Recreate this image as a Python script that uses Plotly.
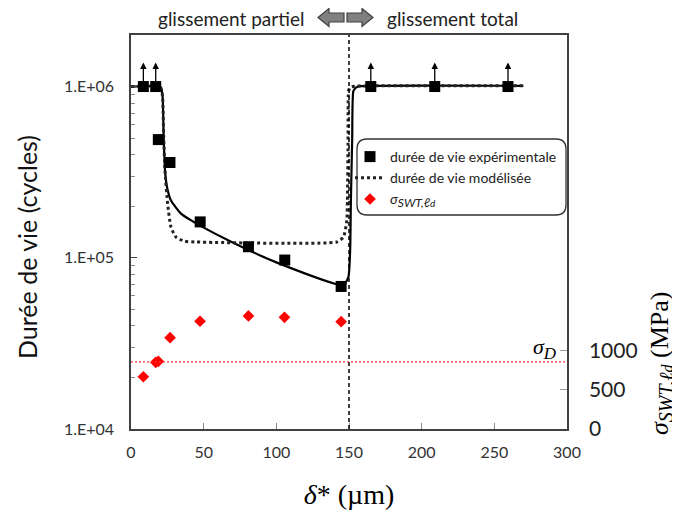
import math
import plotly.graph_objects as go

# ---------------- data ----------------
delta_exp = [8.5, 17.0, 18.8, 26.8, 47.6, 80.8, 105.8, 144.6, 165.0, 209.0, 259.4]
life_exp = [1.0e6, 1.0e6, 4.9e5, 3.6e5, 1.62e5, 1.16e5, 9.7e4, 6.8e4, 1.0e6, 1.0e6, 1.0e6]
runout = [True, True, False, False, False, False, False, False, True, True, True]

delta_fit = [0, 20.0, 21.0, 21.8, 22.5, 23.4, 24.8, 27.5, 34.4, 40.0, 47.5, 68.9, 100.0, 146.2,
             149.6, 150.8, 151.3, 152.2, 153.0, 155.0, 157.7, 270.0]
life_fit = [1.0e6, 1.0e6, 9.6e5, 8.6e5, 5.04e5, 3.23e5, 2.58e5, 2.16e5, 1.81e5, 1.68e5, 1.54e5,
            1.24e5, 9.4e4, 6.92e4, 7.73e4, 1.11e5, 2.16e5, 5.0e5, 9.4e5, 9.9e5, 1.005e6, 1.01e6]

delta_model = [0, 20.0, 21.0, 21.8, 22.5, 23.4, 25.2, 27.5, 31.0, 36.7, 45.0, 141.6, 146.2,
               148.5, 148.9, 149.3, 149.7, 150.5, 151.9, 155.0, 270.0]
life_model = [1.0e6, 1.0e6, 9.6e5, 8.6e5, 5.04e5, 3.23e5, 2.07e5, 1.51e5, 1.32e5, 1.25e5, 1.236e5,
              1.236e5, 1.32e5, 1.65e5, 2.16e5, 4.2e5, 9.4e5, 9.8e5, 9.95e5, 1.005e6, 1.01e6]

delta_sigma = [8.5, 17.0, 18.8, 26.9, 47.5, 80.8, 105.6, 144.6]
sigma_swt = [670, 855, 868, 1170, 1381, 1449, 1432, 1376]

sigma_D = 860
delta_transition = 150

x_ticks = [0, 50, 100, 150, 200, 250, 300]
y_ticks = [1e4, 1e5, 1e6]
y_ticktext = ["1.E+04", "1.E+05", "1.E+06"]
y2_ticks = [0, 500, 1000]

# ---------------- layout geometry ----------------
# the page body has an 8px margin, so the figure is drawn 8px right/down of the window corner
OFF = 8
SL, SR, ST, SB = 131, 567, 35, 429          # plot area in window pixels
PW, PH = SR - SL, SB - ST
W, H = 672, 502
ML, MT = SL - OFF, ST - OFF
MR, MB = W - (SR - OFF), H - (SB - OFF)


def px(xs):
    return (xs - SL) / PW


def py(ys):
    return (SB - ys) / PH


def P(a, b):
    return f"{px(a):.5f},{py(b):.5f}"


SANS = "Lato, 'Open Sans', sans-serif"
SERIF = "'Liberation Serif', 'DejaVu Serif', serif"
AX = "#404040"


def sigma_label(sub_px, d_px):
    return (f"<i>σ</i><sub><i><span style='font-size:{sub_px}px'>SWT,ℓ</span>"
            f"<span style='font-size:{d_px}px'>d</span></i></sub>")


fig = go.Figure()

fig.add_trace(go.Scatter(x=delta_fit, y=life_fit, mode="lines",
                         line=dict(color="black", width=2.2, shape="spline", smoothing=0.5),
                         showlegend=False, hoverinfo="skip"))
fig.add_trace(go.Scatter(x=delta_model, y=life_model, mode="lines",
                         line=dict(color="#222222", width=3, dash="dot", shape="spline", smoothing=0.5),
                         name="durée de vie modélisée", legendrank=2))
fig.add_trace(go.Scatter(x=delta_exp, y=life_exp, mode="markers",
                         marker=dict(symbol="square", size=11, color="black"),
                         name="durée de vie expérimentale", legendrank=1))
fig.add_trace(go.Scatter(x=delta_sigma, y=sigma_swt, mode="markers", yaxis="y2",
                         marker=dict(symbol="diamond", size=9, color="#ff0000"),
                         name=f"<span style='font-family:{SERIF};font-size:17px'>{sigma_label(12, 10)}</span>",
                         legendrank=3))

# run-out arrows
for xd, yd, r in zip(delta_exp, life_exp, runout):
    if r:
        fig.add_annotation(x=xd, y=math.log10(yd) + 0.14, ax=xd, ay=math.log10(yd),
                           xref="x", yref="y", axref="x", ayref="y",
                           showarrow=True, arrowhead=2, arrowsize=1, arrowwidth=1.3,
                           arrowcolor="black", text="")

# transition line and sigma_D line
fig.add_shape(type="line", xref="x", yref="paper", x0=delta_transition, x1=delta_transition,
              y0=0, y1=1, line=dict(color="black", width=1.5, dash="4px,3px"))
fig.add_shape(type="line", xref="paper", yref="y2", x0=0, x1=1, y0=sigma_D, y1=sigma_D,
              line=dict(color="#ff3333", width=1.3, dash="2px,2px"))
fig.add_annotation(x=px(545), y=py(348), xref="paper", yref="paper", showarrow=False,
                   xanchor="center", yanchor="middle",
                   text="<i>σ</i><sub><i><span style='font-size:17px'>D</span></i></sub>",
                   font=dict(family=SERIF, size=22, color="black"))

# legend rounded box
x0b, x1b, y0b, y1b, r = 357, 566, 139, 215, 10
path = (f"M {P(x0b + r, y0b)} L {P(x1b - r, y0b)} Q {P(x1b, y0b)} {P(x1b, y0b + r)} "
        f"L {P(x1b, y1b - r)} Q {P(x1b, y1b)} {P(x1b - r, y1b)} L {P(x0b + r, y1b)} "
        f"Q {P(x0b, y1b)} {P(x0b, y1b - r)} L {P(x0b, y0b + r)} Q {P(x0b, y0b)} {P(x0b + r, y0b)} Z")
fig.add_shape(type="path", xref="paper", yref="paper", path=path,
              line=dict(color="#333333", width=1.3), fillcolor="white", layer="below")

# top labels and block arrows
fig.add_annotation(x=px(231), y=py(18), xref="paper", yref="paper", showarrow=False,
                   xanchor="center", yanchor="middle",
                   text="glissement partiel", font=dict(family=SANS, size=19, color="#222"))
fig.add_annotation(x=px(452), y=py(18), xref="paper", yref="paper", showarrow=False,
                   xanchor="center", yanchor="middle",
                   text="glissement total", font=dict(family=SANS, size=19, color="#222"))


def arrow_path(xa, xb, direction):
    yc, hh, sh = 17.5, 9, 4.5
    head = 11
    if direction < 0:
        pts = [(xa, yc), (xa + head, yc - hh), (xa + head, yc - sh), (xb, yc - sh),
               (xb, yc + sh), (xa + head, yc + sh), (xa + head, yc + hh)]
    else:
        pts = [(xb, yc), (xb - head, yc - hh), (xb - head, yc - sh), (xa, yc - sh),
               (xa, yc + sh), (xb - head, yc + sh), (xb - head, yc + hh)]
    return "M " + " L ".join(P(a, b) for a, b in pts) + " Z"


for xa, xb, d in [(318, 344, -1), (347, 373, 1)]:
    fig.add_shape(type="path", xref="paper", yref="paper", path=arrow_path(xa, xb, d),
                  line=dict(color="#404040", width=1.2), fillcolor="#808080")

# axis titles placed as annotations
fig.add_annotation(x=px(661), y=py(364), xref="paper", yref="paper", showarrow=False, textangle=-90,
                   xanchor="center", yanchor="middle",
                   text=sigma_label(20, 16) + " (MPa)",
                   font=dict(family=SERIF, size=26, color="black"))
fig.add_annotation(x=px(27), y=py(247), xref="paper", yref="paper", showarrow=False, textangle=-90,
                   xanchor="center", yanchor="middle",
                   text="Durée de vie (cycles)", font=dict(family=SANS, size=25, color="#111"))

fig.update_layout(
    width=W, height=H,
    margin=dict(l=ML, r=MR, t=MT, b=MB, pad=0, autoexpand=False),
    plot_bgcolor="white", paper_bgcolor="white",
    showlegend=True,
    legend=dict(x=px(350), y=py(141), xanchor="left", yanchor="top",
                bgcolor="rgba(0,0,0,0)", borderwidth=0,
                font=dict(family=SANS, size=14, color="#222"), itemwidth=30,
                tracegroupgap=0),
    xaxis=dict(range=[0, 300], tickvals=x_ticks, ticks="inside", ticklen=6, tickcolor="#888",
               showline=True, linecolor=AX, linewidth=1.5, mirror=True, showgrid=False, zeroline=False,
               tickfont=dict(family=SANS, size=16, color="#333"), automargin=False,
               ticklabelstandoff=8,
               title=dict(text="<i>δ</i>* (µm)", font=dict(family=SERIF, size=28, color="black"),
                          standoff=26)),
    yaxis=dict(type="log", range=[4, math.log10(2e6)], tickvals=y_ticks, ticktext=y_ticktext,
               ticks="inside", ticklen=6, tickcolor=AX,
               minor=dict(ticks="inside", ticklen=4, tickcolor="#888", dtick="D1", showgrid=False),
               showline=True, linecolor=AX, linewidth=1.5, showgrid=False, zeroline=False,
               tickfont=dict(family=SANS, size=16, color="#333"), automargin=False,
               ticklabelstandoff=12),
    yaxis2=dict(overlaying="y", side="right", range=[0, 5050], tickvals=y2_ticks,
                ticks="inside", ticklen=7, tickcolor="#999",
                showline=True, linecolor=AX, linewidth=1.5, showgrid=False, zeroline=False,
                ticklabelstandoff=16, automargin=False,
                tickfont=dict(family=SANS, size=21, color="#222")),
)

fig.write_html("out.html")
